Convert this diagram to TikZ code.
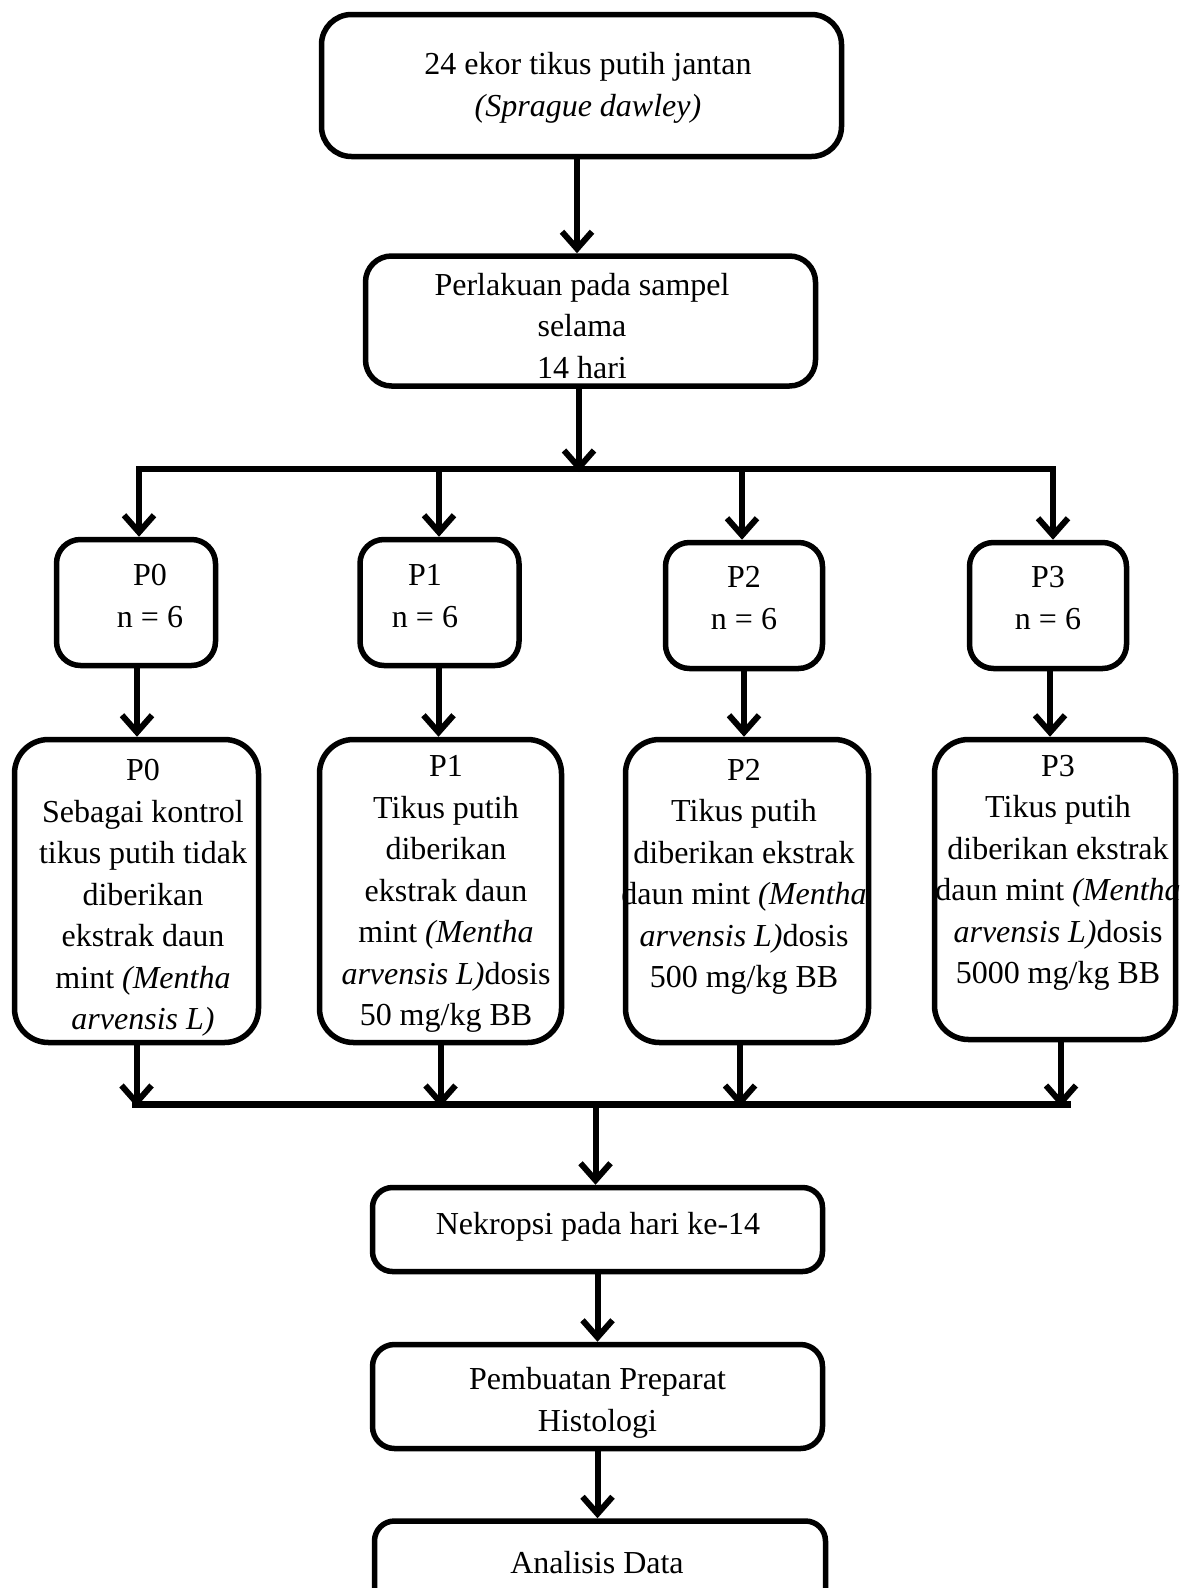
\documentclass[tikz,border=0pt]{standalone}
\usepackage{fontspec}
\setmainfont{Liberation Serif}
\usetikzlibrary{arrows.meta}
\begin{document}
\begin{tikzpicture}[x=1pt,y=-1pt,
  boxst/.style={draw, line width=5.5pt, rounded corners=26pt, inner sep=0pt},
  txt/.style={align=center, inner sep=0pt, font=\fontsize{32}{41.5}\selectfont},
  arr/.style={line width=6pt, -{Straight Barb[length=17pt,width=30pt]}},
  arr2/.style={line width=6pt, {Straight Barb[length=17pt,width=30pt]}-{Straight Barb[length=17pt,width=30pt]}},
  ln/.style={line width=7pt}]
\useasboundingbox (0,0) rectangle (1192,1588);

% texts
\node[txt] (ttop) at (588,88) {24 ekor tikus putih jantan\\\textit{(Sprague dawley)}};
\node[txt] (tb2) at (582,326) {Perlakuan pada sampel\\selama\\14 hari};
\node[txt] (ts0) at (150,596) {P0\\n = 6};
\node[txt] (ts1) at (425,596) {P1\\n = 6};
\node[txt] (ts2) at (744,598) {P2\\n = 6};
\node[txt] (ts3) at (1048,598) {P3\\n = 6};
\node[txt] (tg0) at (143,898) {P0\\Sebagai kontrol\\tikus putih tidak\\diberikan\\ekstrak daun\\mint \textit{(Mentha}\\\textit{arvensis L)}};
\node[txt] (tg1) at (446,894) {P1\\Tikus putih\\diberikan\\ekstrak daun\\mint \textit{(Mentha}\\\textit{arvensis L)}dosis\\50 mg/kg BB};
\node[txt] (tg2) at (744,877) {P2\\Tikus putih\\diberikan ekstrak\\daun mint \textit{(Mentha}\\\textit{arvensis L)}dosis\\500 mg/kg BB};
\node[txt] (tg3) at (1058,873) {P3\\Tikus putih\\diberikan ekstrak\\daun mint \textit{(Mentha}\\\textit{arvensis L)}dosis\\5000 mg/kg BB};
\node[txt] (tnek) at (598,1227) {Nekropsi pada hari ke-14};
\node[txt] (tpre) at (597.5,1403) {Pembuatan Preparat\\Histologi};
\node[txt] (tana) at (597,1563) {Analisis Data};

% boxes
\node[boxst, rounded corners=30pt, minimum width=520pt, minimum height=142pt] (top) at (581.5,85.5) {};
\node[boxst, minimum width=450pt, minimum height=130pt] (b2) at (590.5,321) {};
\node[boxst, rounded corners=24pt, minimum width=159pt, minimum height=126pt] (s0) at (136,602.5) {};
\node[boxst, rounded corners=24pt, minimum width=159pt, minimum height=126pt] (s1) at (439.5,602.5) {};
\node[boxst, rounded corners=24pt, minimum width=157pt, minimum height=126pt] (s2) at (744,605.5) {};
\node[boxst, rounded corners=24pt, minimum width=157pt, minimum height=126pt] (s3) at (1048,605.5) {};
\node[boxst, rounded corners=34pt, minimum width=244pt, minimum height=303pt] (g0) at (136.5,891) {};
\node[boxst, rounded corners=34pt, minimum width=242pt, minimum height=303pt] (g1) at (440.5,891) {};
\node[boxst, rounded corners=34pt, minimum width=243pt, minimum height=303pt] (g2) at (747,891) {};
\node[boxst, rounded corners=34pt, minimum width=241pt, minimum height=300pt] (g3) at (1055,889.5) {};
\node[boxst, rounded corners=20pt, minimum width=450pt, minimum height=84pt] (nek) at (597.5,1229.5) {};
\node[boxst, rounded corners=22pt, minimum width=450pt, minimum height=104pt] (pre) at (597.5,1396.5) {};
\node[boxst, rounded corners=20pt, minimum width=451pt, minimum height=100pt] (ana) at (600,1571) {};

% connectors
\draw[arr] ([xshift=-4.5pt]top.south) -- ([xshift=-4.5pt]top.south |- b2.north);

\coordinate (busL) at (139,469);
\coordinate (busR) at (1053,469);
\draw[arr2, line join=miter] (busL |- s0.north) -- (busL) -- (busR) -- (busR |- s3.north);
\draw[arr] ([xshift=-11.5pt]b2.south) -- ([xshift=-11.5pt,yshift=-3pt]b2.south |- busL);
\coordinate (t1) at (439,469);
\coordinate (t2) at (742,469);
\draw[arr] (t1) -- (t1 |- s1.north);
\draw[arr] (t2) -- (t2 |- s2.north);

\draw[arr] ([xshift=1pt]s0.south) -- ([xshift=1pt]s0.south |- g0.north);
\draw[arr] ([xshift=-1pt]s1.south) -- ([xshift=-1pt]s1.south |- g1.north);
\draw[arr] (s2.south) -- (s2.south |- g2.north);
\draw[arr] ([xshift=2pt]s3.south) -- ([xshift=2pt]s3.south |- g3.north);

\coordinate (bbL) at (132,1104);
\coordinate (bbR) at (1071,1104);
\draw[ln] (bbL) -- (bbR);
\draw[arr] (g0.south) -- ([yshift=-3pt]g0.south |- bbL);
\draw[arr] (g1.south) -- ([yshift=-3pt]g1.south |- bbL);
\draw[arr] ([xshift=-7pt]g2.south) -- ([xshift=-7pt,yshift=-3pt]g2.south |- bbL);
\draw[arr] ([xshift=6pt]g3.south) -- ([xshift=6pt,yshift=-3pt]g3.south |- bbL);

\coordinate (bm) at (595.5,1104);
\draw[arr] (bm) -- (bm |- nek.north);
\draw[arr] (nek.south) -- (nek.south |- pre.north);
\draw[arr] (pre.south) -- (pre.south |- ana.north);
\end{tikzpicture}
\end{document}
